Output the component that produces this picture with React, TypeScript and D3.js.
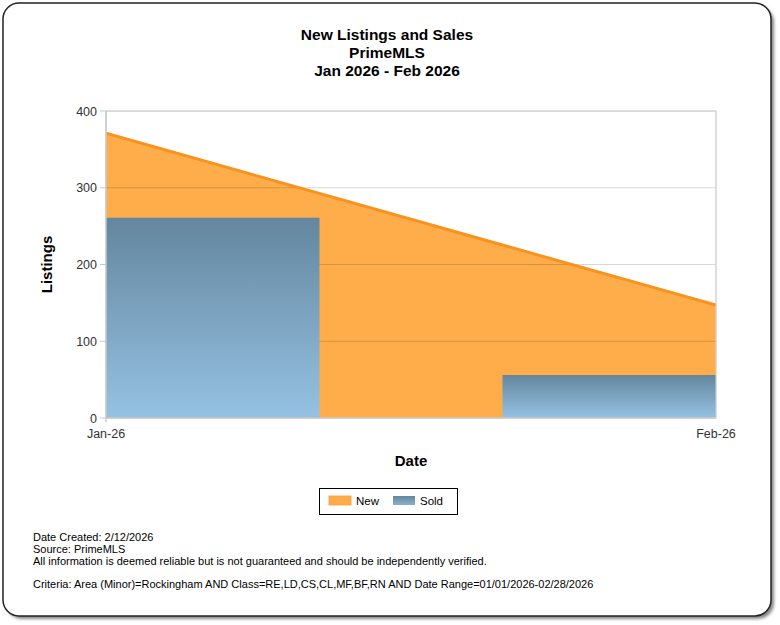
import React from "react";
import * as d3 from "d3";

const categories = ["Jan-26", "Feb-26"];
const newListings = [371, 147];
const sold = [261, 56];
const yTicks = [0, 100, 200, 300, 400];
const titleLines = ["New Listings and Sales", "PrimeMLS", "Jan 2026 - Feb 2026"];
const footerLines = [
  "Date Created: 2/12/2026",
  "Source: PrimeMLS",
  "All information is deemed reliable but is not guaranteed and should be independently verified.",
];
const criteria =
  "Criteria: Area (Minor)=Rockingham AND Class=RE,LD,CS,CL,MF,BF,RN AND Date Range=01/01/2026-02/28/2026";

const W = 780;
const H = 625;
const FONT = "Arial, 'Liberation Sans', sans-serif";

export default function App() {
  const left = 106, right = 716, top = 111, bottom = 418;
  const x = d3.scalePoint<string>().domain(categories).range([left, right]);
  const y = d3.scaleLinear().domain([0, 400]).range([bottom, top]);
  const barW = (right - left) * 0.7;

  const data = categories.map((c, i) => ({ c, n: newListings[i], s: sold[i] }));
  const area = d3
    .area<any>()
    .x((d) => x(d.c)!)
    .y0(y(0))
    .y1((d) => y(d.n));
  const line = d3
    .line<any>()
    .x((d) => x(d.c)!)
    .y((d) => y(d.n));

  return (
    <svg
      width={W}
      height={H}
      style={{ position: "absolute", left: 0, top: 0 }}
      fontFamily={FONT}
    >
      <defs>
        <linearGradient id="barGrad" x1="0" y1="0" x2="0" y2="1">
          <stop offset="0%" stopColor="#64869E" />
          <stop offset="100%" stopColor="#95C2E3" />
        </linearGradient>
        <linearGradient id="legGrad" x1="0" y1="0" x2="0" y2="1">
          <stop offset="0%" stopColor="#64869E" />
          <stop offset="100%" stopColor="#8AB2CE" />
        </linearGradient>
        <clipPath id="plotClip">
          <rect x={left} y={top} width={right - left} height={bottom - top} />
        </clipPath>
        <filter id="shadow" x="-5%" y="-5%" width="110%" height="110%">
          <feGaussianBlur stdDeviation="1.5" />
        </filter>
      </defs>
      <rect x={0} y={0} width={W} height={H} fill="#fff" />
      {/* frame shadow and border */}
      <rect x={6} y={6} width={768} height={613} rx={16} fill="#888" filter="url(#shadow)" />
      <rect x={3} y={3} width={768} height={613} rx={16} fill="#fff" stroke="#222" strokeWidth={1.5} />

      {/* titles */}
      {titleLines.map((t, i) => (
        <text
          key={t}
          x={387}
          y={40 + i * 18}
          textAnchor="middle"
          fontSize={15.5}
          fontWeight="bold"
          fill="#000"
        >
          {t}
        </text>
      ))}

      {/* plot background */}
      <rect x={left} y={top} width={right - left} height={bottom - top} fill="#fff" stroke="#d3d3d3" />

      <g clipPath="url(#plotClip)">
        <path d={area(data)!} fill="#FFAD4A" />
        {yTicks.slice(1).map((t) => (
          <line
            key={t}
            x1={left}
            x2={right}
            y1={y(t)}
            y2={y(t)}
            stroke="#d8d8d8"
            style={{ mixBlendMode: "multiply" }}
          />
        ))}
        {data.map((d) => (
          <rect
            key={d.c}
            x={x(d.c)! - barW / 2}
            y={y(d.s)}
            width={barW}
            height={y(0) - y(d.s)}
            fill="url(#barGrad)"
          />
        ))}
        <path d={line(data)!} fill="none" stroke="#F7931E" strokeWidth={3} />
      </g>
      <line x1={left} x2={right} y1={top} y2={top} stroke="#d3d3d3" />
      <line x1={right} x2={right} y1={top} y2={bottom} stroke="#d3d3d3" />
      {/* axes */}
      <line x1={left} x2={left} y1={top} y2={bottom + 4} stroke="#c8c8c8" strokeWidth={1.5} />
      <line x1={left} x2={right} y1={bottom} y2={bottom} stroke="#c8c8c8" strokeWidth={1.5} />
      {yTicks.map((t) => (
        <g key={t}>
          <line x1={left - 6} x2={left} y1={y(t)} y2={y(t)} stroke="#c8c8c8" />
          <text x={left - 9} y={y(t) + 4.5} textAnchor="end" fontSize={12.5} fill="#333">
            {t}
          </text>
        </g>
      ))}
      {categories.map((c) => (
        <text key={c} x={x(c)} y={438} textAnchor="middle" fontSize={12.5} fill="#333">
          {c}
        </text>
      ))}
      <text
        transform={`translate(52,${(top + bottom) / 2}) rotate(-90)`}
        textAnchor="middle"
        fontSize={15}
        fontWeight="bold"
        fill="#000"
      >
        Listings
      </text>
      <text x={411} y={466} textAnchor="middle" fontSize={15} fontWeight="bold" fill="#000">
        Date
      </text>

      {/* legend */}
      <rect x={319.5} y={488.5} width={138} height={26} fill="#fff" stroke="#000" strokeWidth={1} />
      <rect x={329} y={496} width={22} height={9} fill="#FFAD4A" stroke="#F7A030" strokeWidth={0.8} />
      <text x={356} y={505} fontSize={11.5} fill="#000">New</text>
      <rect x={393} y={496} width={22} height={9} fill="url(#legGrad)" />
      <text x={420} y={505} fontSize={11.5} fill="#000">Sold</text>

      {/* footer */}
      {footerLines.map((t, i) => (
        <text key={t} x={33} y={541 + i * 12} fontSize={11} fill="#000">
          {t}
        </text>
      ))}
      <text x={33} y={588} fontSize={11} fill="#000">
        {criteria}
      </text>
    </svg>
  );
}
